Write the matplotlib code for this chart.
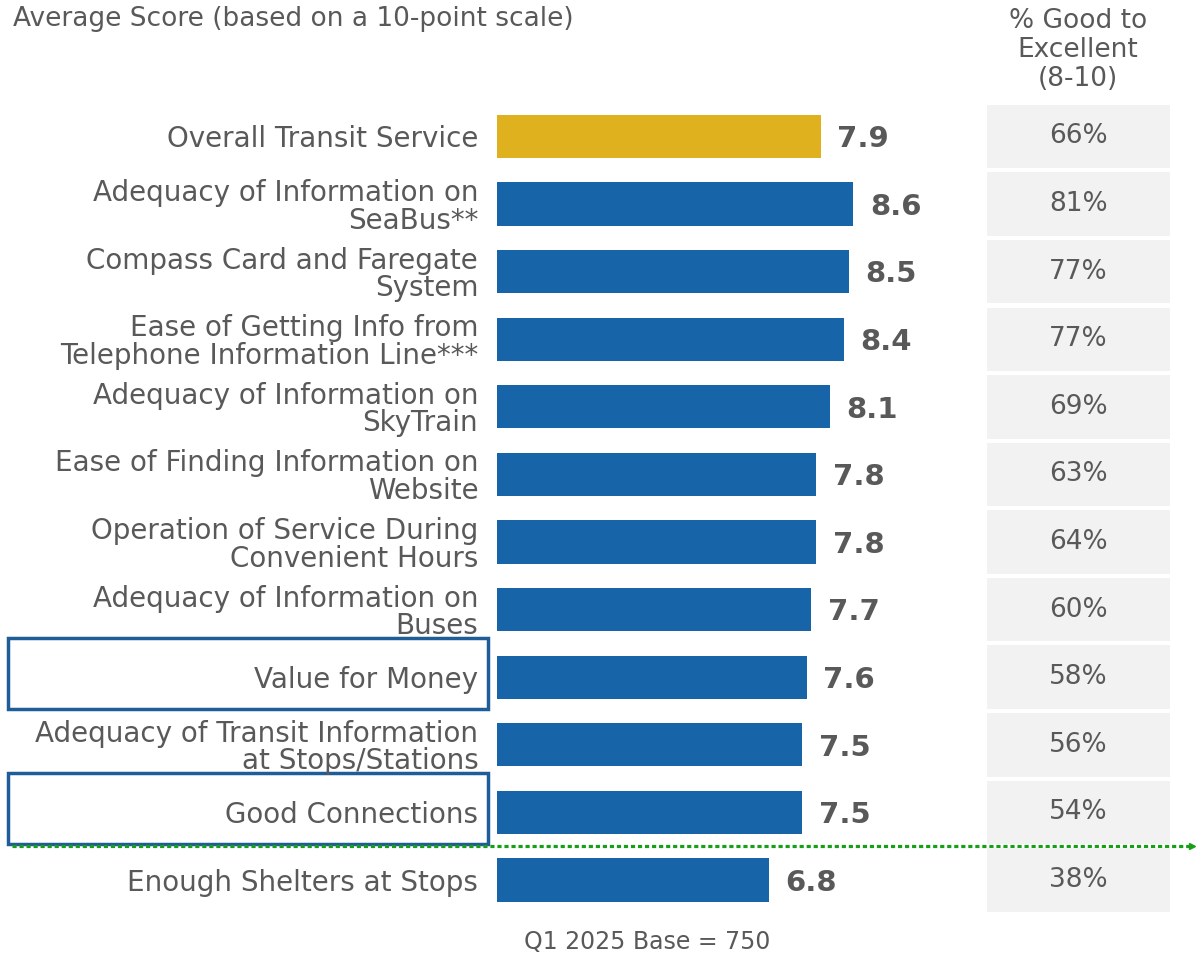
import numpy as np
import matplotlib
matplotlib.use("Agg")
import matplotlib.pyplot as plt
from matplotlib.patches import Rectangle
from matplotlib.transforms import blended_transform_factory

categories = [
    "Overall Transit Service",
    "Adequacy of Information on\nSeaBus**",
    "Compass Card and Faregate\nSystem",
    "Ease of Getting Info from\nTelephone Information Line***",
    "Adequacy of Information on\nSkyTrain",
    "Ease of Finding Information on\nWebsite",
    "Operation of Service During\nConvenient Hours",
    "Adequacy of Information on\nBuses",
    "Value for Money",
    "Adequacy of Transit Information\nat Stops/Stations",
    "Good Connections",
    "Enough Shelters at Stops",
]
scores = [7.9, 8.6, 8.5, 8.4, 8.1, 7.8, 7.8, 7.7, 7.6, 7.5, 7.5, 6.8]
pct_good = [66, 81, 77, 77, 69, 63, 64, 60, 58, 56, 54, 38]
highlighted = ["Value for Money", "Good Connections"]

GREY = "#595959"
BLUE = "#1764a8"
GOLD = "#dfb11e"
W, H = 1196, 956

fig = plt.figure(figsize=(W / 100, H / 100), dpi=100)
plt.rcParams['font.family'] = ['DejaVu Sans']

y = np.arange(len(categories))
top = 1 - 102.7 / H
bottom = 1 - 913.8 / H

# bars
ax = fig.add_axes([497 / W, bottom, 478 / W, top - bottom])
colors = [GOLD] + [BLUE] * (len(scores) - 1)
ax.barh(y, scores, height=0.64, color=colors)
ax.set_xlim(1, 1 + 478 / 46.9)
ax.set_ylim(len(categories) - 0.5, -0.5)
ax.set_yticks(y, categories, fontsize=20, color=GREY, linespacing=0.98)
ax.tick_params(axis='y', length=0, pad=13.5)
ax.set_xticks([])
for s in ax.spines.values():
    s.set_visible(False)
for i, v in enumerate(scores):
    ax.annotate(f"{v:.1f}", (v, i), xytext=(12, -2), textcoords='offset points',
                ha='left', va='center', fontsize=21, fontweight='bold', color=GREY)

# % good to excellent column
ax2 = fig.add_axes([987 / W, bottom, 183 / W, top - bottom])
ax2.barh(y, 1, height=0.94, color="#f2f2f2")
ax2.set_xlim(0, 1)
ax2.set_ylim(len(categories) - 0.5, -0.5)
ax2.axis('off')
for i, p in enumerate(pct_good):
    ax2.text(0.5, i, f"{p}%", ha='center', va='center', fontsize=19, color=GREY)

# highlight boxes and divider line
tr = blended_transform_factory(fig.transFigure, ax.transData)
for name in highlighted:
    i = categories.index(name)
    ax.add_patch(Rectangle((8 / W, i - 0.58), 480 / W, 1.05, transform=tr,
                           fill=False, edgecolor="#1f5d99", lw=2.5, clip_on=False))
ax.plot([12 / W, 1192 / W], [10.5, 10.5], transform=tr, color="#17a017", lw=2.3,
        ls=(0, (1.3, 0.9)), clip_on=False)
ax.plot([1192 / W], [10.5], transform=tr, color="#17a017", marker='>', ms=5,
        clip_on=False)

fig.text(13 / W, 1 - 19 / H, "Average Score (based on a 10-point scale)",
         ha='left', va='center', fontsize=19, color=GREY)
fig.text(1078 / W, 1 - 50 / H, "% Good to\nExcellent\n(8-10)",
         ha='center', va='center', fontsize=19, color=GREY, linespacing=1.15)
fig.text(647 / W, 1 - 942 / H, "Q1 2025 Base = 750",
         ha='center', va='center', fontsize=17, color=GREY)

fig.savefig("out.png", dpi=100)
